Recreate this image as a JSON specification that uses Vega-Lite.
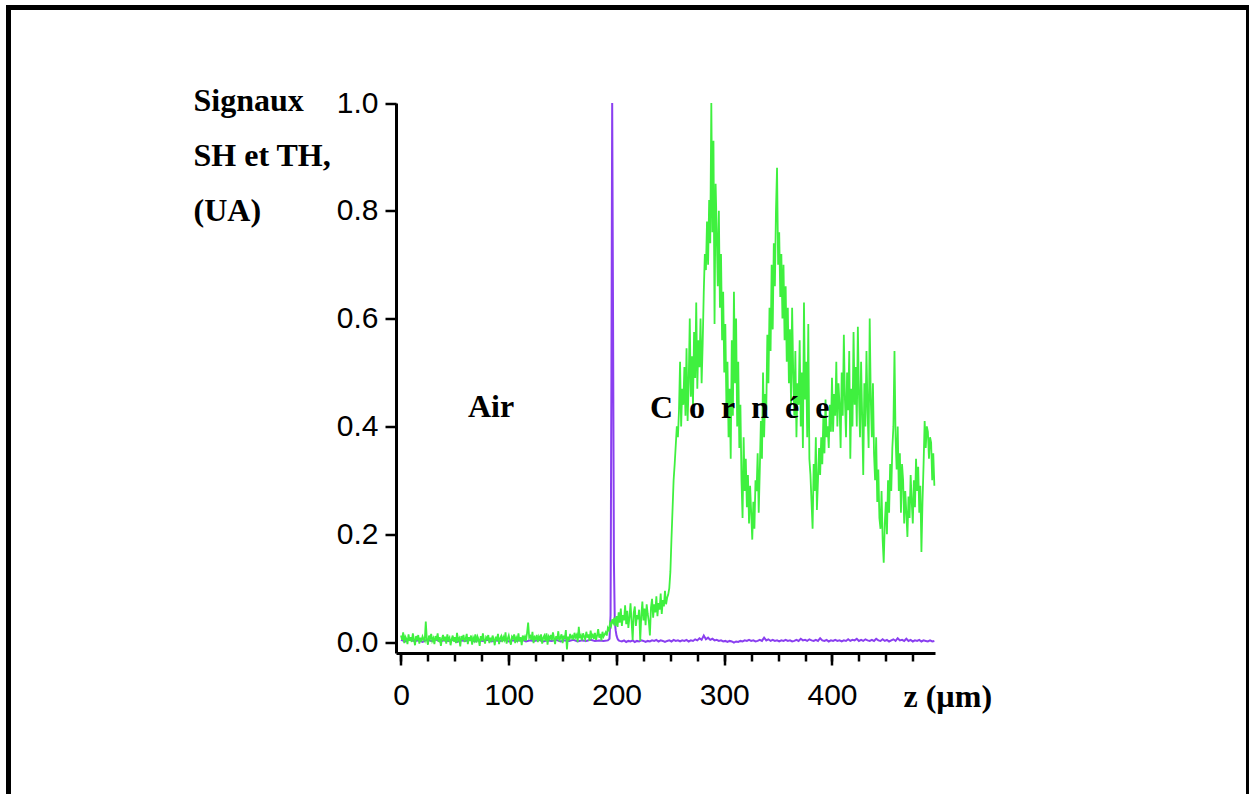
{
"$schema": "https://vega.github.io/schema/vega-lite/v6.json",
"width": 1240,
"height": 800,
"autosize": "none",
"padding": {"left": 8.5, "top": 7.5, "right": 0, "bottom": 0},
"background": "white",
"config": {
"view": {"stroke": "#000000", "strokeWidth": 5},
"axis": {"domainColor": "#000000", "tickColor": "#000000", "labelColor": "#000000", "titleColor": "#000000", "grid": false, "labelFont": "Liberation Sans", "labelFontSize": 30, "labelFontWeight": "normal", "domainWidth": 3, "tickWidth": 2.5, "titleFont": "Liberation Serif", "titleFontWeight": "bold", "titleFontSize": 32, "labelFlush": false, "labelOverlap": false},
"text": {"font": "Liberation Serif", "fontWeight": "bold", "fontSize": 32, "color": "#000000"}
},
"datasets": {
"purple": [
{"z":0,"v":0.004},{"z":4,"v":0.001},{"z":8,"v":0.005},{"z":12,"v":0.002},{"z":16,"v":0.003},{"z":20,"v":0.000},{"z":24,"v":0.004},{"z":28,"v":0.002},{"z":32,"v":0.005},{"z":36,"v":0.001},{"z":40,"v":0.003},{"z":44,"v":0.002},{"z":48,"v":0.004},{"z":52,"v":0.000},{"z":56,"v":0.003},{"z":60,"v":0.002},{"z":64,"v":0.005},{"z":68,"v":0.001},{"z":72,"v":0.003},{"z":76,"v":0.002},{"z":80,"v":0.004},{"z":84,"v":0.001},{"z":88,"v":0.003},{"z":92,"v":0.002},{"z":96,"v":0.004},{"z":100,"v":0.001},{"z":104,"v":0.003},{"z":108,"v":0.002},{"z":112,"v":0.005},{"z":116,"v":0.001},{"z":120,"v":0.003},{"z":124,"v":0.002},{"z":128,"v":0.004},{"z":132,"v":0.001},{"z":136,"v":0.003},{"z":140,"v":0.002},{"z":144,"v":0.004},{"z":148,"v":0.001},{"z":152,"v":0.003},{"z":156,"v":0.002},{"z":160,"v":0.004},{"z":164,"v":0.001},{"z":168,"v":0.003},{"z":172,"v":0.002},{"z":176,"v":0.004},{"z":180,"v":0.002},{"z":184,"v":0.003},{"z":188,"v":0.002},{"z":192,"v":0.003},
{"z":193.5,"v":0.006},{"z":194.5,"v":0.05},{"z":195.3,"v":0.5},{"z":196,"v":1.0},{"z":196.8,"v":0.6},{"z":197.6,"v":0.15},{"z":198.4,"v":0.04},{"z":199.2,"v":0.022},{"z":200,"v":0.012},{"z":201,"v":0.006},{"z":202,"v":0.003},
{"z":203,"v":0.002},{"z":205,"v":0.001},{"z":207,"v":0.003},{"z":209,"v":0.000},{"z":211,"v":0.002},{"z":213,"v":0.001},{"z":215,"v":0.003},{"z":217,"v":0.000},{"z":219,"v":0.002},{"z":221,"v":0.001},{"z":223,"v":0.003},{"z":225,"v":0.002},{"z":227,"v":0.000},{"z":229,"v":0.002},{"z":231,"v":0.001},{"z":233,"v":0.003},{"z":235,"v":0.002},{"z":237,"v":0.004},{"z":239,"v":0.001},{"z":241,"v":0.003},{"z":243,"v":0.002},{"z":245,"v":0.000},{"z":247,"v":0.002},{"z":249,"v":0.003},{"z":251,"v":0.001},{"z":253,"v":0.004},{"z":255,"v":0.002},{"z":257,"v":0.003},{"z":259,"v":0.001},{"z":261,"v":0.003},{"z":263,"v":0.002},{"z":265,"v":0.004},{"z":267,"v":0.001},{"z":269,"v":0.003},{"z":271,"v":0.002},{"z":273,"v":0.005},{"z":275,"v":0.003},{"z":277,"v":0.007},{"z":279,"v":0.004},{"z":281,"v":0.012},{"z":283,"v":0.005},{"z":285,"v":0.008},{"z":287,"v":0.004},{"z":289,"v":0.006},{"z":291,"v":0.003},{"z":293,"v":0.004},{"z":295,"v":0.002},{"z":297,"v":0.003},{"z":299,"v":0.001},{"z":301,"v":0.002},{"z":303,"v":0.000},{"z":305,"v":0.002},{"z":307,"v":0.001},{"z":309,"v":-0.001},{"z":311,"v":0.001},{"z":313,"v":0.000},{"z":315,"v":0.002},{"z":317,"v":0.001},{"z":319,"v":0.003},{"z":321,"v":0.002},{"z":323,"v":0.004},{"z":325,"v":0.002},{"z":327,"v":0.003},{"z":329,"v":0.001},{"z":331,"v":0.002},{"z":333,"v":0.004},{"z":335,"v":0.002},{"z":337,"v":0.008},{"z":339,"v":0.003},{"z":341,"v":0.005},{"z":343,"v":0.002},{"z":345,"v":0.004},{"z":347,"v":0.002},{"z":349,"v":0.003},{"z":351,"v":0.001},{"z":353,"v":0.003},{"z":355,"v":0.002},{"z":357,"v":0.004},{"z":359,"v":0.002},{"z":361,"v":0.003},{"z":363,"v":0.001},{"z":365,"v":0.002},{"z":367,"v":0.004},{"z":369,"v":0.002},{"z":371,"v":0.006},{"z":373,"v":0.003},{"z":375,"v":0.004},{"z":377,"v":0.002},{"z":379,"v":0.005},{"z":381,"v":0.003},{"z":383,"v":0.002},{"z":385,"v":0.004},{"z":387,"v":0.002},{"z":389,"v":0.007},{"z":391,"v":0.003},{"z":393,"v":0.002},{"z":395,"v":0.004},{"z":397,"v":0.001},{"z":399,"v":0.003},{"z":401,"v":0.002},{"z":403,"v":0.004},{"z":405,"v":0.002},{"z":407,"v":0.003},{"z":409,"v":0.001},{"z":411,"v":0.003},{"z":413,"v":0.002},{"z":415,"v":0.005},{"z":417,"v":0.002},{"z":419,"v":0.004},{"z":421,"v":0.003},{"z":423,"v":0.006},{"z":425,"v":0.002},{"z":427,"v":0.004},{"z":429,"v":0.002},{"z":431,"v":0.005},{"z":433,"v":0.003},{"z":435,"v":0.002},{"z":437,"v":0.004},{"z":439,"v":0.002},{"z":441,"v":0.006},{"z":443,"v":0.003},{"z":445,"v":0.002},{"z":447,"v":0.005},{"z":449,"v":0.002},{"z":451,"v":0.004},{"z":453,"v":0.001},{"z":455,"v":0.003},{"z":457,"v":0.005},{"z":459,"v":0.002},{"z":461,"v":0.007},{"z":463,"v":0.003},{"z":465,"v":0.004},{"z":467,"v":0.002},{"z":469,"v":0.006},{"z":471,"v":0.002},{"z":473,"v":0.004},{"z":475,"v":0.001},{"z":477,"v":0.003},{"z":479,"v":0.002},{"z":481,"v":0.004},{"z":483,"v":0.001},{"z":485,"v":0.003},{"z":487,"v":0.002},{"z":489,"v":0.001},{"z":491,"v":0.003},{"z":493,"v":0.001},{"z":495,"v":0.002}
],
"green": [
{"z":0,"v":0.012},{"z":1,"v":0.004},{"z":2,"v":0.018},{"z":3,"v":-0.002},{"z":4,"v":0.010},{"z":5,"v":0.006},{"z":6,"v":-0.004},{"z":7,"v":0.014},{"z":8,"v":0.002},{"z":9,"v":0.009},
{"z":10,"v":0.000},{"z":11,"v":0.016},{"z":12,"v":0.005},{"z":13,"v":-0.006},{"z":14,"v":0.011},{"z":15,"v":0.003},{"z":16,"v":0.013},{"z":17,"v":-0.003},{"z":18,"v":0.008},{"z":19,"v":0.001},
{"z":20,"v":0.010},{"z":21,"v":0.005},{"z":22,"v":0.002},{"z":23,"v":0.038},{"z":24,"v":0.004},{"z":25,"v":-0.005},{"z":26,"v":0.012},{"z":27,"v":0.006},{"z":28,"v":0.015},{"z":29,"v":0.002},
{"z":30,"v":0.007},{"z":31,"v":-0.004},{"z":32,"v":0.011},{"z":33,"v":0.003},{"z":34,"v":0.016},{"z":35,"v":0.000},{"z":36,"v":0.009},{"z":37,"v":-0.007},{"z":38,"v":0.006},{"z":39,"v":0.013},
{"z":40,"v":0.002},{"z":41,"v":0.010},{"z":42,"v":-0.003},{"z":43,"v":0.014},{"z":44,"v":0.004},{"z":45,"v":0.008},{"z":46,"v":-0.006},{"z":47,"v":0.005},{"z":48,"v":0.012},{"z":49,"v":0.001},
{"z":50,"v":0.009},{"z":51,"v":-0.002},{"z":52,"v":0.017},{"z":53,"v":0.003},{"z":54,"v":0.007},{"z":55,"v":-0.008},{"z":56,"v":0.011},{"z":57,"v":0.004},{"z":58,"v":0.013},{"z":59,"v":0.000},
{"z":60,"v":0.006},{"z":61,"v":0.015},{"z":62,"v":-0.004},{"z":63,"v":0.009},{"z":64,"v":0.002},{"z":65,"v":0.012},{"z":66,"v":-0.005},{"z":67,"v":0.008},{"z":68,"v":0.003},{"z":69,"v":0.014},
{"z":70,"v":-0.001},{"z":71,"v":0.010},{"z":72,"v":0.005},{"z":73,"v":-0.007},{"z":74,"v":0.011},{"z":75,"v":0.002},{"z":76,"v":0.016},{"z":77,"v":0.004},{"z":78,"v":-0.003},{"z":79,"v":0.009},
{"z":80,"v":0.006},{"z":81,"v":0.013},{"z":82,"v":-0.002},{"z":83,"v":0.008},{"z":84,"v":0.001},{"z":85,"v":0.012},{"z":86,"v":0.005},{"z":87,"v":-0.006},{"z":88,"v":0.010},{"z":89,"v":0.003},
{"z":90,"v":0.015},{"z":91,"v":-0.004},{"z":92,"v":0.007},{"z":93,"v":0.011},{"z":94,"v":0.000},{"z":95,"v":0.009},{"z":96,"v":0.004},{"z":97,"v":0.018},{"z":98,"v":-0.003},{"z":99,"v":0.006},
{"z":100,"v":0.012},{"z":101,"v":0.002},{"z":102,"v":-0.005},{"z":103,"v":0.010},{"z":104,"v":0.007},{"z":105,"v":0.014},{"z":106,"v":-0.002},{"z":107,"v":0.008},{"z":108,"v":0.003},{"z":109,"v":0.016},
{"z":110,"v":0.001},{"z":111,"v":0.009},{"z":112,"v":-0.006},{"z":113,"v":0.012},{"z":114,"v":0.005},{"z":115,"v":0.010},{"z":116,"v":0.002},{"z":117,"v":0.017},{"z":118,"v":0.036},{"z":119,"v":0.008},
{"z":120,"v":0.011},{"z":121,"v":0.004},{"z":122,"v":0.019},{"z":123,"v":-0.002},{"z":124,"v":0.009},{"z":125,"v":0.006},{"z":126,"v":0.013},{"z":127,"v":0.000},{"z":128,"v":0.010},{"z":129,"v":0.005},
{"z":130,"v":0.014},{"z":131,"v":-0.003},{"z":132,"v":0.008},{"z":133,"v":0.012},{"z":134,"v":0.002},{"z":135,"v":0.016},{"z":136,"v":-0.005},{"z":137,"v":0.010},{"z":138,"v":0.006},{"z":139,"v":0.013},
{"z":140,"v":0.003},{"z":141,"v":0.018},{"z":142,"v":0.007},{"z":143,"v":-0.004},{"z":144,"v":0.011},{"z":145,"v":0.005},{"z":146,"v":0.020},{"z":147,"v":0.001},{"z":148,"v":0.009},{"z":149,"v":0.014},
{"z":150,"v":-0.002},{"z":151,"v":0.012},{"z":152,"v":0.006},{"z":153,"v":0.022},{"z":154,"v":-0.014},{"z":155,"v":0.010},{"z":156,"v":0.003},{"z":157,"v":0.015},{"z":158,"v":0.008},{"z":159,"v":0.011},
{"z":160,"v":0.004},{"z":161,"v":0.017},{"z":162,"v":0.009},{"z":163,"v":0.013},{"z":164,"v":0.000},{"z":165,"v":0.028},{"z":166,"v":0.007},{"z":167,"v":0.012},{"z":168,"v":0.003},{"z":169,"v":0.016},
{"z":170,"v":0.010},{"z":171,"v":0.005},{"z":172,"v":0.019},{"z":173,"v":0.008},{"z":174,"v":0.014},{"z":175,"v":0.002},{"z":176,"v":0.021},{"z":177,"v":0.009},{"z":178,"v":0.013},{"z":179,"v":0.006},
{"z":180,"v":0.017},{"z":181,"v":0.004},{"z":182,"v":0.012},{"z":183,"v":0.024},{"z":184,"v":0.008},{"z":185,"v":0.015},{"z":186,"v":0.003},{"z":187,"v":0.019},{"z":188,"v":0.010},{"z":189,"v":0.014},
{"z":190,"v":0.018},{"z":191,"v":0.012},{"z":192,"v":0.026},{"z":193,"v":0.022},{"z":194,"v":0.035},{"z":195,"v":0.030},{"z":196,"v":0.042},{"z":197,"v":0.036},{"z":198,"v":0.045},{"z":199,"v":0.030},
{"z":200,"v":0.048},{"z":201,"v":0.028},{"z":202,"v":0.055},{"z":203,"v":0.036},{"z":204,"v":0.062},{"z":205,"v":0.030},{"z":206,"v":0.050},{"z":207,"v":0.040},{"z":208,"v":0.068},{"z":209,"v":0.033},
{"z":210,"v":0.058},{"z":211,"v":0.026},{"z":212,"v":0.045},{"z":213,"v":0.072},{"z":214,"v":0.038},{"z":215,"v":0.004},{"z":216,"v":0.054},{"z":217,"v":0.066},{"z":218,"v":0.030},{"z":219,"v":0.050},
{"z":220,"v":0.042},{"z":221,"v":0.060},{"z":222,"v":0.002},{"z":223,"v":0.048},{"z":224,"v":0.075},{"z":225,"v":0.040},{"z":226,"v":0.062},{"z":227,"v":0.031},{"z":228,"v":0.070},{"z":229,"v":0.052},
{"z":230,"v":0.038},{"z":231,"v":0.012},{"z":232,"v":0.064},{"z":233,"v":0.080},{"z":234,"v":0.045},{"z":235,"v":0.070},{"z":236,"v":0.055},{"z":237,"v":0.085},{"z":238,"v":0.048},{"z":239,"v":0.072},
{"z":240,"v":0.060},{"z":241,"v":0.090},{"z":242,"v":0.052},{"z":243,"v":0.078},{"z":244,"v":0.066},{"z":245,"v":0.095},{"z":246,"v":0.070},{"z":247,"v":0.082},{"z":248,"v":0.088},{"z":249,"v":0.100},
{"z":250,"v":0.130},{"z":251,"v":0.190},{"z":252,"v":0.245},{"z":253,"v":0.300},{"z":254,"v":0.330},{"z":255,"v":0.365},{"z":256,"v":0.400},{"z":257,"v":0.380},{"z":258,"v":0.430},{"z":259,"v":0.520},
{"z":260,"v":0.400},{"z":261,"v":0.470},{"z":262,"v":0.440},{"z":263,"v":0.510},{"z":264,"v":0.420},{"z":265,"v":0.545},{"z":266,"v":0.410},{"z":267,"v":0.480},{"z":268,"v":0.600},{"z":269,"v":0.455},
{"z":270,"v":0.530},{"z":271,"v":0.440},{"z":272,"v":0.575},{"z":273,"v":0.490},{"z":274,"v":0.630},{"z":275,"v":0.470},{"z":276,"v":0.560},{"z":277,"v":0.510},{"z":278,"v":0.600},{"z":279,"v":0.480},
{"z":280,"v":0.555},{"z":281,"v":0.650},{"z":282,"v":0.720},{"z":283,"v":0.690},{"z":284,"v":0.780},{"z":285,"v":0.700},{"z":286,"v":0.820},{"z":287,"v":0.740},{"z":288,"v":1.000},{"z":289,"v":0.760},
{"z":290,"v":0.930},{"z":291,"v":0.590},{"z":292,"v":0.850},{"z":293,"v":0.760},{"z":294,"v":0.660},{"z":295,"v":0.800},{"z":296,"v":0.620},{"z":297,"v":0.720},{"z":298,"v":0.560},{"z":299,"v":0.650},
{"z":300,"v":0.500},{"z":301,"v":0.590},{"z":302,"v":0.440},{"z":303,"v":0.520},{"z":304,"v":0.380},{"z":305,"v":0.470},{"z":306,"v":0.340},{"z":307,"v":0.560},{"z":308,"v":0.420},{"z":309,"v":0.650},
{"z":310,"v":0.480},{"z":311,"v":0.600},{"z":312,"v":0.400},{"z":313,"v":0.520},{"z":314,"v":0.360},{"z":315,"v":0.440},{"z":316,"v":0.300},{"z":317,"v":0.230},{"z":318,"v":0.380},{"z":319,"v":0.280},
{"z":320,"v":0.340},{"z":321,"v":0.250},{"z":322,"v":0.310},{"z":323,"v":0.220},{"z":324,"v":0.290},{"z":325,"v":0.240},{"z":326,"v":0.190},{"z":327,"v":0.260},{"z":328,"v":0.210},{"z":329,"v":0.300},
{"z":330,"v":0.280},{"z":331,"v":0.350},{"z":332,"v":0.240},{"z":333,"v":0.320},{"z":334,"v":0.410},{"z":335,"v":0.340},{"z":336,"v":0.500},{"z":337,"v":0.380},{"z":338,"v":0.460},{"z":339,"v":0.430},
{"z":340,"v":0.570},{"z":341,"v":0.480},{"z":342,"v":0.620},{"z":343,"v":0.540},{"z":344,"v":0.700},{"z":345,"v":0.580},{"z":346,"v":0.740},{"z":347,"v":0.660},{"z":348,"v":0.800},{"z":349,"v":0.880},
{"z":350,"v":0.700},{"z":351,"v":0.760},{"z":352,"v":0.640},{"z":353,"v":0.720},{"z":354,"v":0.600},{"z":355,"v":0.700},{"z":356,"v":0.560},{"z":357,"v":0.660},{"z":358,"v":0.520},{"z":359,"v":0.620},
{"z":360,"v":0.480},{"z":361,"v":0.580},{"z":362,"v":0.440},{"z":363,"v":0.620},{"z":364,"v":0.500},{"z":365,"v":0.420},{"z":366,"v":0.540},{"z":367,"v":0.380},{"z":368,"v":0.480},{"z":369,"v":0.440},
{"z":370,"v":0.560},{"z":371,"v":0.400},{"z":372,"v":0.500},{"z":373,"v":0.360},{"z":374,"v":0.630},{"z":375,"v":0.450},{"z":376,"v":0.520},{"z":377,"v":0.380},{"z":378,"v":0.590},{"z":379,"v":0.340},
{"z":380,"v":0.310},{"z":381,"v":0.260},{"z":382,"v":0.210},{"z":383,"v":0.330},{"z":384,"v":0.280},{"z":385,"v":0.380},{"z":386,"v":0.245},{"z":387,"v":0.300},{"z":388,"v":0.360},{"z":389,"v":0.310},
{"z":390,"v":0.380},{"z":391,"v":0.330},{"z":392,"v":0.420},{"z":393,"v":0.350},{"z":394,"v":0.450},{"z":395,"v":0.380},{"z":396,"v":0.400},{"z":397,"v":0.360},{"z":398,"v":0.440},{"z":399,"v":0.390},
{"z":400,"v":0.490},{"z":401,"v":0.390},{"z":402,"v":0.460},{"z":403,"v":0.420},{"z":404,"v":0.520},{"z":405,"v":0.400},{"z":406,"v":0.480},{"z":407,"v":0.440},{"z":408,"v":0.360},{"z":409,"v":0.500},
{"z":410,"v":0.420},{"z":411,"v":0.570},{"z":412,"v":0.450},{"z":413,"v":0.380},{"z":414,"v":0.500},{"z":415,"v":0.430},{"z":416,"v":0.540},{"z":417,"v":0.340},{"z":418,"v":0.470},{"z":419,"v":0.400},
{"z":420,"v":0.575},{"z":421,"v":0.440},{"z":422,"v":0.510},{"z":423,"v":0.400},{"z":424,"v":0.585},{"z":425,"v":0.460},{"z":426,"v":0.380},{"z":427,"v":0.520},{"z":428,"v":0.420},{"z":429,"v":0.310},
{"z":430,"v":0.480},{"z":431,"v":0.400},{"z":432,"v":0.540},{"z":433,"v":0.430},{"z":434,"v":0.360},{"z":435,"v":0.600},{"z":436,"v":0.450},{"z":437,"v":0.380},{"z":438,"v":0.480},{"z":439,"v":0.350},
{"z":440,"v":0.300},{"z":441,"v":0.380},{"z":442,"v":0.260},{"z":443,"v":0.320},{"z":444,"v":0.230},{"z":445,"v":0.210},{"z":446,"v":0.280},{"z":447,"v":0.190},{"z":448,"v":0.147},{"z":449,"v":0.220},
{"z":450,"v":0.260},{"z":451,"v":0.200},{"z":452,"v":0.300},{"z":453,"v":0.240},{"z":454,"v":0.330},{"z":455,"v":0.280},{"z":456,"v":0.360},{"z":457,"v":0.400},{"z":458,"v":0.540},{"z":459,"v":0.380},
{"z":460,"v":0.320},{"z":461,"v":0.400},{"z":462,"v":0.280},{"z":463,"v":0.350},{"z":464,"v":0.240},{"z":465,"v":0.330},{"z":466,"v":0.300},{"z":467,"v":0.220},{"z":468,"v":0.280},{"z":469,"v":0.240},
{"z":470,"v":0.195},{"z":471,"v":0.270},{"z":472,"v":0.230},{"z":473,"v":0.310},{"z":474,"v":0.260},{"z":475,"v":0.220},{"z":476,"v":0.300},{"z":477,"v":0.250},{"z":478,"v":0.340},{"z":479,"v":0.280},
{"z":480,"v":0.325},{"z":481,"v":0.240},{"z":482,"v":0.290},{"z":483,"v":0.167},{"z":484,"v":0.260},{"z":485,"v":0.330},{"z":486,"v":0.410},{"z":487,"v":0.360},{"z":488,"v":0.400},{"z":489,"v":0.390},
{"z":490,"v":0.340},{"z":491,"v":0.380},{"z":492,"v":0.370},{"z":493,"v":0.300},{"z":494,"v":0.350},{"z":495,"v":0.290}
],
"notes": [
{"label":"Air","z":83.5,"v":0.4174},
{"label":"C\u00a0\u00a0o\u00a0\u00a0r\u00a0\u00a0n\u00a0\u00a0é\u00a0\u00a0e","z":314.4,"v":0.4155}
]
},
"layer": [
{
"data": {"name": "purple"},
"mark": {"type": "line", "color": "#8a3ff0", "strokeWidth": 2},
"encoding": {
"x": {"field": "z", "type": "quantitative",
"scale": {"domain": [-4.64, 495.6], "range": [387.5, 926.5], "nice": false, "zero": false},
"axis": {"values": [0,25,50,75,100,125,150,175,200,225,250,275,300,325,350,375,400,425,450,475], "labels": false, "tickSize": 8, "domain": true, "offset": -154.5, "orient": "bottom", "title": null}},
"y": {"field": "v", "type": "quantitative",
"scale": {"domain": [-0.0204, 1.0], "range": [645.5, 95.5], "nice": false, "zero": false},
"axis": {"values": [0,0.2,0.4,0.6,0.8,1.0], "format": ".1f", "tickSize": 11, "labelPadding": 7, "offset": -387.5, "orient": "left",
"title": ["Signaux", "SH et TH,", "(UA)"], "titleAngle": 0, "titleAlign": "left", "titleBaseline": "alphabetic", "titleX": -203, "titleY": 102.5, "titleLineHeight": 55}}
}
},
{
"data": {"name": "green"},
"mark": {"type": "line", "color": "#3ff03f", "strokeWidth": 1.8},
"encoding": {
"x": {"field": "z", "type": "quantitative",
"scale": {"domain": [-4.64, 495.6], "range": [387.5, 926.5], "nice": false, "zero": false},
"axis": {"values": [0,100,200,300,400], "format": "d", "tickSize": 12, "labelPadding": 15, "domain": false, "offset": -154.5, "orient": "bottom",
"title": "z (µm)", "titleAlign": "left", "titleBaseline": "alphabetic", "titleX": 894.5, "titleY": 53, "titleAngle": 0}},
"y": {"field": "v", "type": "quantitative",
"scale": {"domain": [-0.0204, 1.0], "range": [645.5, 95.5], "nice": false, "zero": false},
"axis": null}
}
},
{
"data": {"name": "notes"},
"mark": {"type": "text", "baseline": "alphabetic", "align": "center"},
"encoding": {
"x": {"field": "z", "type": "quantitative", "scale": {"domain": [-4.64, 495.6], "range": [387.5, 926.5], "nice": false, "zero": false}, "axis": null},
"y": {"field": "v", "type": "quantitative", "scale": {"domain": [-0.0204, 1.0], "range": [645.5, 95.5], "nice": false, "zero": false}, "axis": null},
"text": {"field": "label"}
}
}
],
"resolve": {"axis": {"x": "independent", "y": "independent"}}
}
